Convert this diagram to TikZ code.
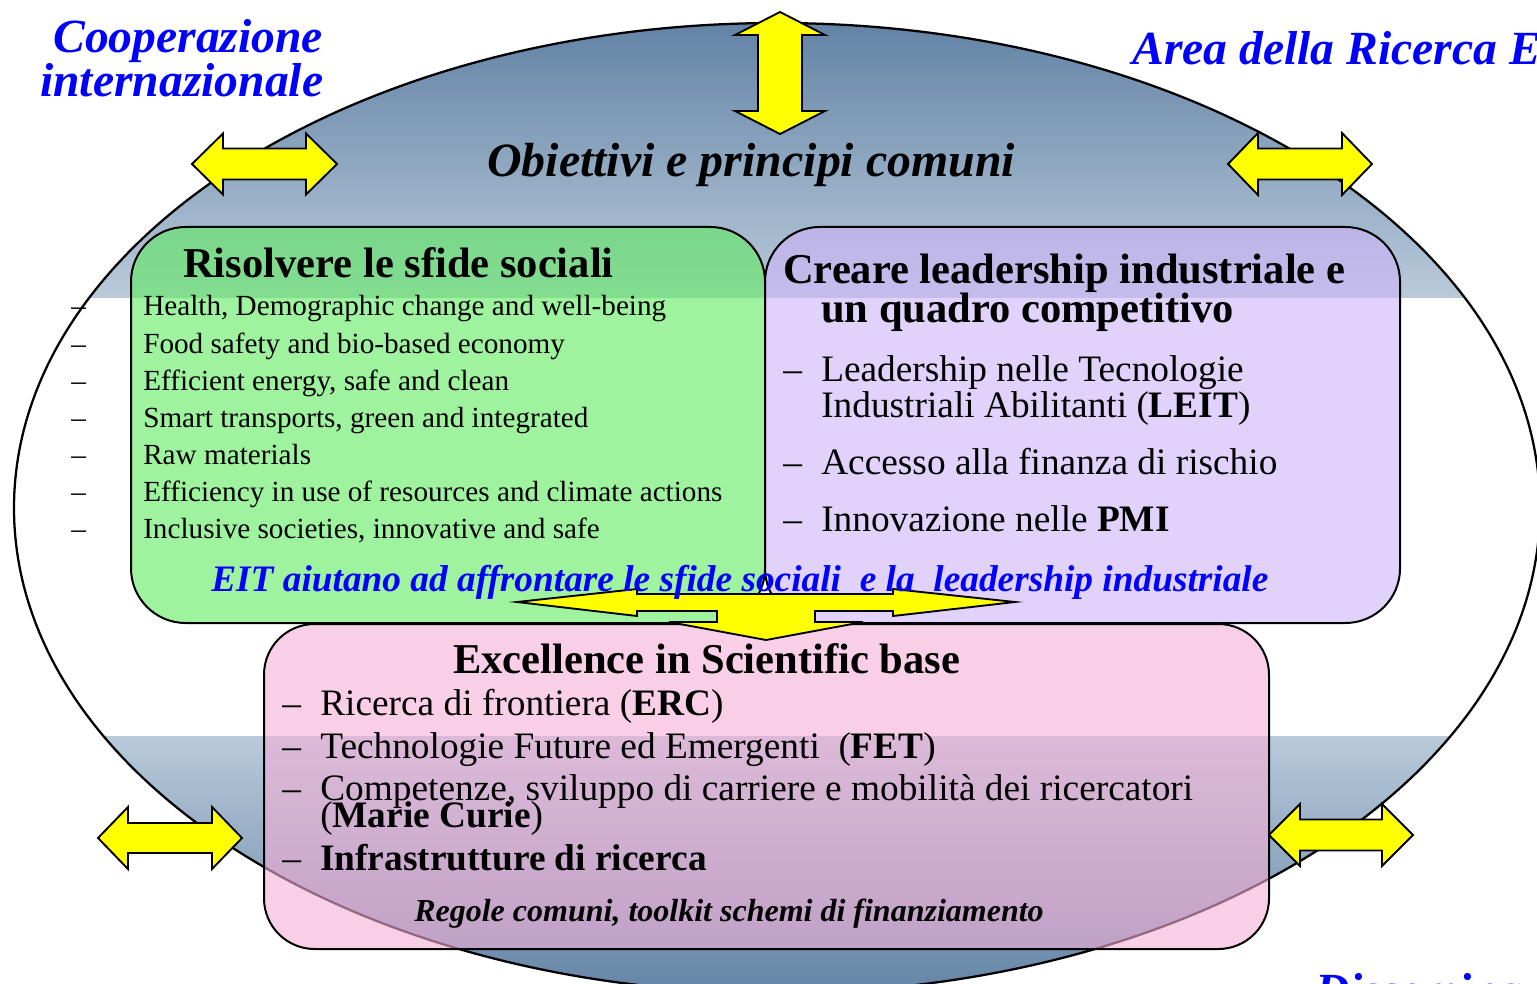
\documentclass[tikz,border=0pt]{standalone}
\usepackage{fontspec}
\setmainfont{Liberation Serif}
\definecolor{bandtop}{RGB}{98,130,165}
\definecolor{bandmid}{RGB}{185,202,218}
\definecolor{gfill}{RGB}{95,235,95}
\definecolor{pfill}{RGB}{205,180,249}
\definecolor{kfill}{RGB}{245,175,215}
\definecolor{ayellow}{RGB}{255,255,0}
\newcommand\HArrow[6]{% x1 x2 cy headlen headhalf shafthalf
  \draw[yarrow] (#1,#3) -- (#1+#4,#3-#5) -- (#1+#4,#3-#6) -- (#2-#4,#3-#6) -- (#2-#4,#3-#5) -- (#2,#3)
   -- (#2-#4,#3+#5) -- (#2-#4,#3+#6) -- (#1+#4,#3+#6) -- (#1+#4,#3+#5) -- cycle;}
\newcommand\VArrow[6]{% cx y1 y2 headlen headhalf shafthalf
  \draw[yarrow] (#1,#2) -- (#1+#5,#2+#4) -- (#1+#6,#2+#4) -- (#1+#6,#3-#4) -- (#1+#5,#3-#4) -- (#1,#3)
   -- (#1-#5,#3-#4) -- (#1-#6,#3-#4) -- (#1-#6,#2+#4) -- (#1-#5,#2+#4) -- cycle;}
\begin{document}
\begin{tikzpicture}[x=0.75pt,y=-0.75pt,
  yarrow/.style={draw=black, fill=ayellow, line width=1.4pt, line join=miter},
  box/.style={draw=black, line width=1.5pt, rounded corners=41pt, fill opacity=0.6},
  bluetitle/.style={text=blue, font=\fontsize{35.7}{32}\selectfont\bfseries\itshape, inner sep=0, anchor=base west},
  objt/.style={font=\fontsize{35.9}{40}\selectfont\bfseries\itshape, inner sep=0, anchor=base west},
  hdr/.style={font=\fontsize{31.9}{34}\selectfont\bfseries, inner sep=0, anchor=base west},
  gitem/.style={font=\fontsize{21.9}{26}\selectfont, inner sep=0, anchor=base west},
  item/.style={font=\fontsize{28}{30}\selectfont, inner sep=0, anchor=base west},
  eit/.style={text=blue, font=\fontsize{28}{30}\selectfont\bfseries\itshape, inner sep=0, anchor=base west},
  regole/.style={font=\fontsize{24}{28}\selectfont\bfseries\itshape, inner sep=0, anchor=base west}]
\useasboundingbox (0,0) rectangle (1537,984);
% ellipse with shaded bands
\begin{scope}
  \clip (777,508) ellipse [x radius=763, y radius=485];
  \shade[top color=bandtop, bottom color=bandmid] (0,20) rectangle (1560,297);
  \shade[top color=bandmid, bottom color=bandtop] (0,736) rectangle (1560,1000);
\end{scope}
\draw[line width=1.7pt] (777,508) ellipse [x radius=763, y radius=485];
% boxes
\draw[box, fill=gfill] (131,227) rectangle (765,623);
\draw[box, fill=pfill] (765,227) rectangle (1400,623);
\draw[box, fill=kfill, rounded corners=38pt] (264,624) rectangle (1269,949);
% double arrows
\VArrow{780}{12}{134}{23}{45}{22}
\HArrow{192}{337}{164}{31}{30.5}{15.5}
\HArrow{1228}{1372}{164}{30}{31}{15.5}
\HArrow{98}{242}{838}{30}{31}{15}
\HArrow{1269}{1413}{835}{31}{31}{15.5}
% three-way arrow
\draw[yarrow] (517,602) -- (637,589) -- (637,594) -- (893,594) -- (893,589) -- (1015,602)
  -- (893,616) -- (893,611) -- (815,611) -- (815,622) -- (863,622) -- (766,640)
  -- (669,622) -- (717,622) -- (717,611) -- (637,611) -- (637,616) -- cycle;
% titles
\node[bluetitle] (coop1) at (53,53) {Cooperazione};
\node[bluetitle] (coop2) at (40,97) {internazionale};
\node[bluetitle] (area) at (1132,65) {Area della Ricerca Europea};
\node[bluetitle] (diss) at (1315,1006) {Disseminazione};
\node[objt] (obj) at (487,177) {Obiettivi e principi comuni};
% green box
\node[hdr] (ris) at (183,277) {Risolvere le sfide sociali};
\foreach \y/\t [count=\i] in {315/{Health, Demographic change and well-being},
  353/{Food safety and bio-based economy},
  390/{Efficient energy, safe and clean},
  427/{Smart transports, green and integrated},
  464/{Raw materials},
  501/{Efficiency in use of resources and climate actions},
  538/{Inclusive societies, innovative and safe}}{
  \node[gitem] (gd\i) at (71,\y) {\textendash};
  \node[gitem] (gt\i) at (143,\y) {\t};
}
% purple box
\node[hdr] (cre1) at (783,283) {Creare leadership industriale e};
\node[hdr] (cre2) at (821,322) {un quadro competitivo};
\node[item] (pd1) at (783,381) {\textendash};
\node[item] (pt1) at (821,381) {Leadership nelle Tecnologie};
\node[item] (pt1b) at (821,417) {Industriali Abilitanti (\textbf{LEIT})};
\node[item] (pd2) at (783,474) {\textendash};
\node[item] (pt2) at (821,474) {Accesso alla finanza di rischio};
\node[item] (pd3) at (783,531) {\textendash};
\node[item] (pt3) at (821,531) {Innovazione nelle \textbf{PMI}};
% EIT line
\node[eit] (eitl) at (211,591) {EIT aiutano ad affrontare le sfide sociali\ \ e la\ \ leadership industriale};
% pink box
\node[hdr] (exc) at (453,673) {Excellence in Scientific base};
\node[item] (kd1) at (282,715) {\textendash};
\node[item] (kt1) at (320,715) {Ricerca di frontiera (\textbf{ERC})};
\node[item] (kd2) at (282,758) {\textendash};
\node[item] (kt2) at (320,758) {Technologie Future ed Emergenti\ \ (\textbf{FET})};
\node[item] (kd3) at (282,800) {\textendash};
\node[item] (kt3) at (320,800) {Competenze, sviluppo di carriere e mobilità dei ricercatori};
\node[item] (kt3b) at (320,827) {(\textbf{Marie Curie})};
\node[item] (kd4) at (282,870) {\textendash};
\node[item] (kt4) at (320,870) {\textbf{Infrastrutture di ricerca}};
\node[regole] (reg) at (414,921) {Regole comuni, toolkit schemi di finanziamento};
\end{tikzpicture}
\end{document}
